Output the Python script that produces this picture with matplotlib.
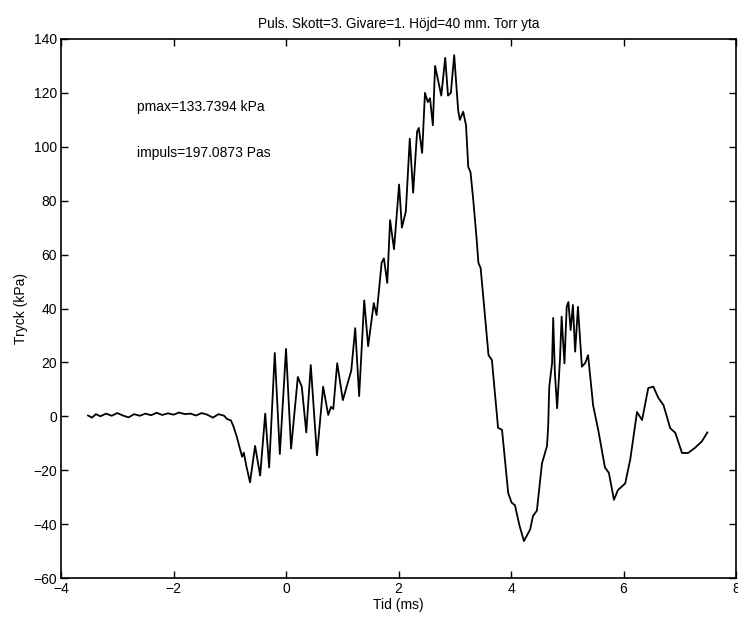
import matplotlib
matplotlib.use("Agg")
import matplotlib.pyplot as plt

plt.rcParams['font.family'] = ['Liberation Sans', 'DejaVu Sans']

tid_ms = [-3.52, -3.45, -3.38, -3.30, -3.20, -3.10, -3.00, -2.90, -2.80, -2.70,
          -2.60, -2.50, -2.40, -2.30, -2.20, -2.10, -2.00, -1.90, -1.80, -1.70,
          -1.60, -1.50, -1.40, -1.30, -1.20, -1.10, -1.05, -0.98, -0.93, -0.87,
          -0.82, -0.78, -0.75, -0.71, -0.64, -0.55, -0.46, -0.37, -0.30, -0.20,
          -0.11, 0.00, 0.09, 0.21, 0.28, 0.36, 0.44, 0.55, 0.66, 0.75,
          0.80, 0.84, 0.91, 1.01, 1.16, 1.23, 1.30, 1.39, 1.46, 1.56,
          1.61, 1.70, 1.74, 1.80, 1.85, 1.92, 2.01, 2.06, 2.13, 2.20,
          2.26, 2.33, 2.36, 2.42, 2.47, 2.52, 2.56, 2.61, 2.65, 2.76,
          2.83, 2.88, 2.93, 2.99, 3.06, 3.09, 3.15, 3.20, 3.24, 3.28,
          3.33, 3.39, 3.42, 3.46, 3.60, 3.66, 3.77, 3.84, 3.95, 4.01,
          4.07, 4.15, 4.23, 4.34, 4.39, 4.46, 4.55, 4.64, 4.66, 4.68, 4.73,
          4.75, 4.78, 4.82, 4.87, 4.90, 4.95, 4.99, 5.02, 5.06, 5.10,
          5.14, 5.19, 5.26, 5.32, 5.37, 5.46, 5.55, 5.67, 5.74, 5.83,
          5.90, 6.03, 6.12, 6.24, 6.33, 6.44, 6.53, 6.62, 6.71, 6.83,
          6.92, 7.04, 7.15, 7.27, 7.39, 7.49]

tryck_kpa = [0.3, -0.5, 0.8, 0.0, 1.0, 0.2, 1.2, 0.3, -0.4, 0.8,
             0.2, 1.0, 0.4, 1.3, 0.5, 1.1, 0.6, 1.4, 0.8, 1.0,
             0.3, 1.2, 0.6, -0.5, 0.8, 0.2, -1.0, -1.5, -4.0, -8.0,
             -12.0, -15.0, -13.5, -18.0, -24.5, -11.0, -22.0, 1.0, -19.0, 23.5,
             -14.0, 25.0, -12.0, 14.6, 11.0, -6.0, 19.0, -14.5, 11.0, 0.5,
             3.5, 2.7, 19.7, 6.0, 17.0, 32.7, 7.5, 43.0, 26.0, 42.0,
             37.6, 57.0, 58.6, 49.5, 72.8, 62.0, 86.0, 70.0, 76.0, 103.0,
             83.0, 105.6, 107.0, 97.7, 120.0, 116.6, 118.0, 108.0, 130.0, 119.0,
             133.0, 119.0, 120.0, 134.0, 113.6, 110.0, 113.0, 108.0, 92.5, 90.6,
             80.0, 65.5, 57.0, 55.0, 22.7, 20.9, -4.3, -5.0, -28.5, -32.0,
             -33.0, -40.5, -46.3, -42.0, -37.0, -35.0, -17.5, -11.0, -4.0, 11.0, 19.8,
             36.5, 16.0, 3.0, 21.0, 37.0, 19.6, 40.6, 42.4, 32.0, 41.3,
             24.0, 40.6, 18.4, 19.8, 22.7, 4.0, -5.0, -19.0, -21.0, -31.0,
             -27.4, -24.9, -16.0, 1.6, -1.4, 10.5, 11.0, 6.8, 4.2, -4.4,
             -6.1, -13.6, -13.6, -11.7, -9.4, -6.0]

title = "Puls. Skott=3. Givare=1. Höjd=40 mm. Torr yta"
pmax_text = "pmax=133.7394 kPa"
impuls_text = "impuls=197.0873 Pas"
xticks = [-4, -2, 0, 2, 4, 6, 8]
yticks = [-60, -40, -20, 0, 20, 40, 60, 80, 100, 120, 140]

fig = plt.figure(figsize=(7.38, 6.17), dpi=100)
ax = fig.add_axes([0.0827, 0.0632, 0.9146, 0.8736])
ax.plot(tid_ms, tryck_kpa, color='black', linewidth=1.3)
ax.set_xlim(-4, 8)
ax.set_ylim(-60, 140)
ax.set_xticks(xticks)
ax.set_yticks(yticks)
ax.set_xticklabels([str(v).replace('-', '\u2212') for v in xticks])
ax.set_yticklabels([str(v).replace('-', '\u2212') for v in yticks])
ax.tick_params(direction='in', length=5, width=1, top=True, right=True,
               labelsize=10, pad=3)
for s in ax.spines.values():
    s.set_linewidth(1.2)
ax.set_title(title, fontsize=9.8, pad=8)
ax.set_xlabel("Tid (ms)", fontsize=10, labelpad=1)
ax.set_ylabel("Tryck (kPa)", fontsize=10, labelpad=4)
ax.text(-2.65, 114.8, pmax_text, fontsize=10, va='center', ha='left')
ax.text(-2.65, 97.7, impuls_text, fontsize=10, va='center', ha='left')

fig.savefig("out.png", dpi=100)
